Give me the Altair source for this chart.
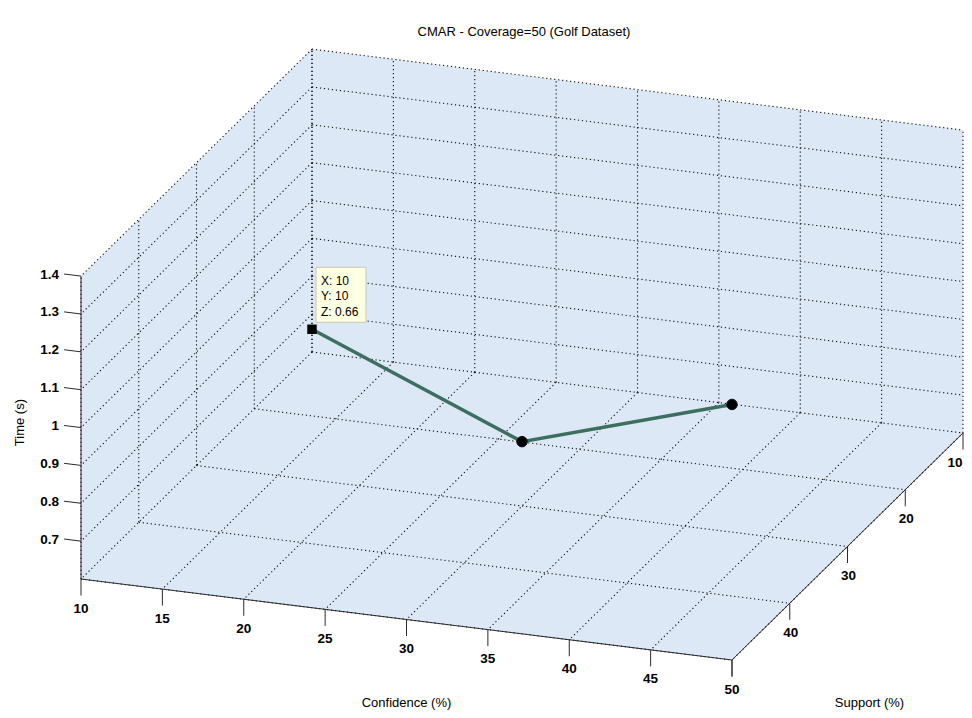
import altair as alt
import pandas as pd
import numpy as np

# ---------------- data ----------------
conf_ticks = [10, 15, 20, 25, 30, 35, 40, 45, 50]
support_ticks = [10, 20, 30, 40, 50]
time_ticks = [0.7, 0.8, 0.9, 1.0, 1.1, 1.2, 1.3, 1.4]
time_tick_labels = ["0.7", "0.8", "0.9", "1", "1.1", "1.2", "1.3", "1.4"]
conf_lim = [10, 50]
support_lim = [10, 50]
time_lim = [0.6, 1.4]

confidence = [10, 30, 50]
support = [10, 30, 50]
time_s = [0.66, 0.77, 1.275]

title_text = "CMAR - Coverage=50 (Golf Dataset)"

# ---------------- 3D view (orthographic projection, page pixels) ----------------
ORIGIN = (312.0, 352.0)          # screen position of (conf_lim[0], support_lim[0], time_lim[0])
U_CONF = (16.275, 2.025)         # screen shift per confidence unit
U_SUP = (-5.775, 5.675)          # screen shift per support unit
U_TIME = (0.0, -378.6)           # screen shift per time unit


def proj(c, s, z):
    X = ORIGIN[0] + (c - conf_lim[0]) * U_CONF[0] + (s - support_lim[0]) * U_SUP[0] + (z - time_lim[0]) * U_TIME[0]
    Y = ORIGIN[1] + (c - conf_lim[0]) * U_CONF[1] + (s - support_lim[0]) * U_SUP[1] + (z - time_lim[0]) * U_TIME[1]
    return X, Y


c0, c1 = conf_lim
s0, s1 = support_lim
z0, z1 = time_lim

# ---- pane silhouette (floor + two back walls) ----
Lt, Bt, Rt = proj(c0, s1, z1), proj(c0, s0, z1), proj(c1, s0, z1)
Lb, Fb, Rb = proj(c0, s1, z0), proj(c1, s1, z0), proj(c1, s0, z0)
xs_break = sorted([Lt[0], Bt[0], Fb[0], Rt[0]])
pane = pd.DataFrame({
    "X": xs_break,
    "Y": np.interp(xs_break, [Lt[0], Bt[0], Rt[0]], [Lt[1], Bt[1], Rt[1]]),
    "Y2": np.interp(xs_break, [Lb[0], Fb[0], Rb[0]], [Lb[1], Fb[1], Rb[1]]),
})

# ---- dotted grid ----
rows = []


def seg(sid, p, q):
    rows.append({"id": sid, "o": 0, "X": p[0], "Y": p[1]})
    rows.append({"id": sid, "o": 1, "X": q[0], "Y": q[1]})


k = 0
for c in conf_ticks:                     # floor, along support
    seg(k, proj(c, s0, z0), proj(c, s1, z0)); k += 1
for s in support_ticks:                  # floor, along confidence
    seg(k, proj(c0, s, z0), proj(c1, s, z0)); k += 1
for s in support_ticks:                  # confidence wall, vertical
    seg(k, proj(c0, s, z0), proj(c0, s, z1)); k += 1
for z in time_ticks:                     # confidence wall, horizontal
    seg(k, proj(c0, s0, z), proj(c0, s1, z)); k += 1
for c in conf_ticks:                     # support wall, vertical
    seg(k, proj(c, s0, z0), proj(c, s0, z1)); k += 1
for z in time_ticks:                     # support wall, horizontal
    seg(k, proj(c0, s0, z), proj(c1, s0, z)); k += 1
grid = pd.DataFrame(rows)

# ---- solid axis lines ----
rows = []
seg(0, proj(c0, s1, z0), proj(c0, s1, z1))
seg(1, proj(c0, s1, z0), proj(c1, s1, z0))
seg(2, proj(c1, s1, z0), proj(c1, s0, z0))
axes_df = pd.DataFrame(rows)

# ---------------- canvas ----------------
W, H = 956, 702
X_MAX, Y_MAX = 8 + W, 8 + H

# ---- ticks and labels ----
TICK_DOWN = 16.5
ticks = []
labels_c = []
for c in conf_ticks:
    X, Y = proj(c, s1, z0)
    ticks.append({"X": X, "Y": Y, "X2": X, "Y2": Y + TICK_DOWN})
    labels_c.append({"X": X, "Y": Y + TICK_DOWN + 13, "t": str(c)})
for s in support_ticks:
    X, Y = proj(c1, s, z0)
    ticks.append({"X": X, "Y": Y, "X2": X, "Y2": Y + TICK_DOWN})
    if s == s1:
        continue  # the support-50 label falls exactly on the confidence-50 label
    labels_c.append({"X": min(X + 1, X_MAX - 9), "Y": Y + TICK_DOWN + 13, "t": str(s)})
labels_z = []
for z, lab in zip(time_ticks, time_tick_labels):
    X, Y = proj(c0, s1, z)
    X2, Y2 = X - 1.04 * U_CONF[0], Y - 1.04 * U_CONF[1]
    ticks.append({"X": X, "Y": Y, "X2": X2, "Y2": Y2})
    labels_z.append({"X": X2 - 5, "Y": Y - 1.5, "t": lab})
ticks = pd.DataFrame(ticks)
labels_c = pd.DataFrame(labels_c)
labels_z = pd.DataFrame(labels_z)

# ---- axis titles ----
zm = proj(c0, s1, (z0 + z1) / 2)
cm = proj((c0 + c1) / 2, s1, z0)
sm = proj(c1, (s0 + s1) / 2, z0)
xt = pd.DataFrame([
    {"X": cm[0], "Y": min(cm[1] + 88, Y_MAX - 7), "t": "Confidence (%)"},
    {"X": sm[0] + 22, "Y": min(sm[1] + 161, Y_MAX - 7), "t": "Support (%)"},
])
yt = pd.DataFrame([{"X": zm[0] - 61, "Y": zm[1] - 5, "t": "Time (s)"}])
tt = pd.DataFrame([{"X": (Lt[0] + Rt[0]) / 2 + 2, "Y": Bt[1] - 17, "t": title_text}])

# ---- data series ----
pts = [proj(c, s, z) for c, s, z in zip(confidence, support, time_s)]
series = pd.DataFrame({
    "o": range(len(pts)),
    "X": [p[0] for p in pts],
    "Y": [p[1] for p in pts],
    "Confidence": confidence, "Support": support, "Time": time_s,
})
tipped = series.iloc[[0]].copy()
others = series.iloc[1:].copy()

px, py = pts[0]
tip_box = pd.DataFrame([{"X": px + 4, "X2": px + 54, "Y": py - 62, "Y2": py - 7}])
tip_txt = pd.DataFrame([
    {"X": px + 9, "Y": py - 48, "t": f"X: {confidence[0]}"},
    {"X": px + 9, "Y": py - 33, "t": f"Y: {support[0]}"},
    {"X": px + 9, "Y": py - 17, "t": f"Z: {time_s[0]}"},
])

# ---------------- chart ----------------
xs = alt.Scale(domain=[8, X_MAX], zero=False, nice=False)
ys = alt.Scale(domain=[8, Y_MAX], zero=False, nice=False, reverse=True)
EX = alt.X("X:Q", scale=xs, axis=None)
EY = alt.Y("Y:Q", scale=ys, axis=None)

FONT = "Liberation Sans"

pane_l = alt.Chart(pane).mark_area(color="#dce8f6", opacity=1).encode(
    x=EX, y=EY, y2="Y2:Q")
grid_l = alt.Chart(grid).mark_line(color="#111111", strokeWidth=1.1, strokeDash=[1.2, 2.8]).encode(
    x=EX, y=EY, detail="id:N", order="o:Q")
axes_l = alt.Chart(axes_df).mark_line(color="#2b2b2b", strokeWidth=1).encode(
    x=EX, y=EY, detail="id:N", order="o:Q")
ticks_l = alt.Chart(ticks).mark_rule(color="#2b2b2b", strokeWidth=1).encode(
    x=EX, y=EY, x2="X2:Q", y2="Y2:Q")
lab_c = alt.Chart(labels_c).mark_text(font=FONT, fontSize=13.5, fontWeight="bold", align="center",
                                      baseline="middle", color="#000").encode(x=EX, y=EY, text="t:N")
lab_z = alt.Chart(labels_z).mark_text(font=FONT, fontSize=13.5, fontWeight="bold", align="right",
                                      baseline="middle", color="#000").encode(x=EX, y=EY, text="t:N")
xt_l = alt.Chart(xt).mark_text(font=FONT, fontSize=13, align="center", baseline="middle",
                               color="#000").encode(x=EX, y=EY, text="t:N")
yt_l = alt.Chart(yt).mark_text(font=FONT, fontSize=13, align="center", baseline="middle", angle=270,
                               color="#000").encode(x=EX, y=EY, text="t:N")
tt_l = alt.Chart(tt).mark_text(font=FONT, fontSize=13, align="center", baseline="middle",
                               color="#000").encode(x=EX, y=EY, text="t:N")
line_l = alt.Chart(series).mark_line(color="#3d6f60", strokeWidth=3.5).encode(
    x=EX, y=EY, order="o:Q")
pt_l = alt.Chart(others).mark_point(shape="circle", filled=True, size=110, color="#000",
                                    stroke="#111", strokeWidth=1, opacity=1).encode(x=EX, y=EY)
sq_l = alt.Chart(tipped).mark_point(shape="square", filled=True, size=90, color="#000",
                                    opacity=1).encode(x=EX, y=EY)
tip_r = alt.Chart(tip_box).mark_rect(fill="#ffffe1", stroke="#c8c8b4", strokeWidth=1).encode(
    x=EX, y=EY, x2="X2:Q", y2="Y2:Q")
tip_t = alt.Chart(tip_txt).mark_text(font=FONT, fontSize=12, align="left", baseline="middle",
                                     color="#000").encode(x=EX, y=EY, text="t:N")

chart = alt.layer(
    pane_l, grid_l, axes_l, ticks_l, lab_c, lab_z, xt_l, yt_l, tt_l,
    line_l, pt_l, sq_l, tip_r, tip_t
).properties(
    width=W, height=H,
    autosize=alt.AutoSizeParams(type="none"),
    padding=0,
    background="white",
).configure_view(stroke=None)

chart.save("out.html", embed_options={"renderer": "svg", "actions": False})
